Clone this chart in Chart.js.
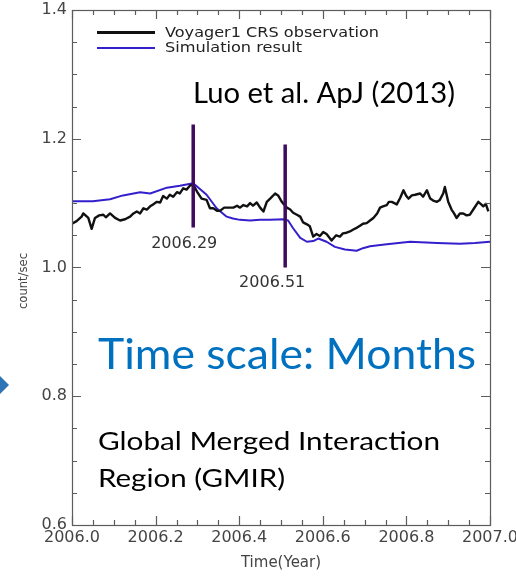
<!DOCTYPE html>
<html>
<head>
<meta charset="utf-8">
<script src="https://cdn.jsdelivr.net/npm/chart.js@4/dist/chart.umd.min.js"></script>
<style>
  html, body { margin: 0; padding: 0; background: #ffffff; }
  canvas { display: block; }
</style>
</head>
<body>
<canvas id="c" width="516" height="576"></canvas>
<script>
// Voyager 1 CRS count rate during 2006 and the matching model run
const obsTime = [
  2006.000, 2006.011, 2006.023, 2006.027, 2006.039, 2006.047, 2006.055, 2006.065, 2006.075, 2006.081,
  2006.091, 2006.103, 2006.115, 2006.127, 2006.139, 2006.147, 2006.155, 2006.163, 2006.171, 2006.179,
  2006.187, 2006.194, 2006.203, 2006.211, 2006.218, 2006.227, 2006.234, 2006.242, 2006.251, 2006.258,
  2006.266, 2006.274, 2006.282, 2006.290, 2006.299, 2006.310, 2006.322, 2006.330, 2006.338, 2006.347,
  2006.354, 2006.364, 2006.374, 2006.386, 2006.395, 2006.402, 2006.410, 2006.419, 2006.426, 2006.433,
  2006.442, 2006.450, 2006.458, 2006.466, 2006.474, 2006.486, 2006.493, 2006.502, 2006.507, 2006.514,
  2006.522, 2006.529, 2006.538, 2006.546, 2006.553, 2006.562, 2006.569, 2006.577, 2006.585, 2006.593,
  2006.601, 2006.609, 2006.621, 2006.632, 2006.641, 2006.648, 2006.657, 2006.665, 2006.673, 2006.682,
  2006.689, 2006.696, 2006.705, 2006.713, 2006.721, 2006.730, 2006.737, 2006.744, 2006.753, 2006.758,
  2006.765, 2006.777, 2006.785, 2006.793, 2006.799, 2006.805, 2006.813, 2006.821, 2006.833, 2006.840,
  2006.849, 2006.857, 2006.864, 2006.873, 2006.880, 2006.888, 2006.892, 2006.900, 2006.908, 2006.914,
  2006.920, 2006.928, 2006.936, 2006.944, 2006.952, 2006.962, 2006.972, 2006.979, 2006.984, 2006.990,
  2006.996
];
const obsCount = [
  1.068, 1.072, 1.079, 1.084, 1.077, 1.060, 1.077, 1.081, 1.082, 1.078,
  1.084, 1.077, 1.073, 1.075, 1.079, 1.084, 1.087, 1.084, 1.092, 1.090,
  1.095, 1.098, 1.102, 1.101, 1.111, 1.107, 1.113, 1.110, 1.117, 1.115,
  1.123, 1.121, 1.127, 1.129, 1.118, 1.107, 1.105, 1.092, 1.092, 1.088,
  1.088, 1.093, 1.093, 1.093, 1.096, 1.093, 1.097, 1.095, 1.100, 1.096,
  1.101, 1.093, 1.087, 1.102, 1.107, 1.115, 1.112, 1.102, 1.098, 1.093,
  1.090, 1.085, 1.082, 1.079, 1.070, 1.067, 1.064, 1.048, 1.052, 1.049,
  1.055, 1.052, 1.042, 1.050, 1.048, 1.053, 1.054, 1.056, 1.059, 1.062,
  1.065, 1.068, 1.069, 1.073, 1.077, 1.084, 1.093, 1.095, 1.097, 1.102,
  1.102, 1.098, 1.108, 1.120, 1.112, 1.107, 1.112, 1.113, 1.115, 1.110,
  1.120, 1.107, 1.104, 1.102, 1.105, 1.115, 1.125, 1.102, 1.090, 1.084,
  1.077, 1.084, 1.084, 1.081, 1.082, 1.092, 1.102, 1.098, 1.095, 1.099,
  1.087
];
const simTime = [
  2006.000, 2006.050, 2006.091, 2006.122, 2006.163, 2006.187, 2006.227, 2006.258, 2006.290, 2006.306,
  2006.322, 2006.346, 2006.370, 2006.385, 2006.402, 2006.426, 2006.450, 2006.474, 2006.506, 2006.517,
  2006.529, 2006.546, 2006.562, 2006.577, 2006.589, 2006.609, 2006.629, 2006.653, 2006.681, 2006.696,
  2006.713, 2006.753, 2006.809, 2006.873, 2006.928, 2006.964, 2007.000
];
const simCount = [
  1.103, 1.103, 1.106, 1.112, 1.117, 1.115, 1.124, 1.127, 1.131, 1.122,
  1.113, 1.092, 1.079, 1.076, 1.074, 1.073, 1.074, 1.074, 1.075, 1.073,
  1.061, 1.046, 1.040, 1.041, 1.045, 1.040, 1.032, 1.028, 1.026, 1.030,
  1.033, 1.036, 1.040, 1.038, 1.037, 1.038, 1.040
];
const seriesNames = ['Voyager1 CRS observation', 'Simulation result'];

const xTickValues = [2006.0, 2006.2, 2006.4, 2006.6, 2006.8, 2007.0];
const xTickLabels = ['2006.0', '2006.2', '2006.4', '2006.6', '2006.8', '2007.0'];
const yTickValues = [0.6, 0.8, 1.0, 1.2, 1.4];
const yTickLabels = ['0.6', '0.8', '1.0', '1.2', '1.4'];

// Event markers: time, label, and the count range each bar spans
const eventYears = [2006.29, 2006.51];
const eventLabels = ['2006.29', '2006.51'];
const eventTop = [1.222, 1.191];
const eventBottom = [1.062, 1.000];

const notes = ['Luo et al. ApJ (2013)', 'Time scale: Months', 'Global Merged Interaction', 'Region (GMIR)'];

const OBS_COLOR = '#111111';
const SIM_COLOR = '#3320cc';
const EVENT_COLOR = '#3f0b5c';
const AXIS_COLOR = '#5c5c5c';
const LABEL_COLOR = '#444444';

function toPoints(xs, ys) { return xs.map((x, i) => ({ x: x, y: ys[i] })); }

// Draw a string so that it spans a given width, starting at (left, baseline)
function fitText(ctx, text, left, baseline, font, width, color) {
  ctx.save();
  ctx.font = font;
  ctx.fillStyle = color;
  ctx.textAlign = 'left';
  ctx.textBaseline = 'alphabetic';
  const w = ctx.measureText(text).width;
  ctx.translate(left, baseline);
  ctx.scale(width / w, 1);
  ctx.fillText(text, 0, 0);
  ctx.restore();
}

// Closed frame with inward major/minor ticks on all four sides
const axisFrame = {
  id: 'axisFrame',
  afterDatasetsDraw(chart) {
    const { ctx, chartArea: a, scales } = chart;
    const xs = scales.x, ys = scales.y;
    ctx.save();
    ctx.strokeStyle = AXIS_COLOR;
    ctx.lineWidth = 1.2;
    ctx.beginPath();
    for (let k = 0; k <= 20; k++) {
      const px = Math.round(xs.getPixelForValue(xs.min + k * 0.05)) + 0.5;
      const len = (k % 4 === 0) ? 9 : 5;
      ctx.moveTo(px, a.bottom); ctx.lineTo(px, a.bottom - len);
      ctx.moveTo(px, a.top); ctx.lineTo(px, a.top + len);
    }
    for (let k = 0; k <= 16; k++) {
      const py = Math.round(ys.getPixelForValue(ys.min + k * 0.05)) + 0.5;
      const len = (k % 4 === 0) ? 9 : 5;
      ctx.moveTo(a.left, py); ctx.lineTo(a.left + len, py);
      ctx.moveTo(a.right, py); ctx.lineTo(a.right - len, py);
    }
    ctx.stroke();
    ctx.strokeRect(a.left + 0.5, a.top + 0.5, a.right - a.left, a.bottom - a.top);

    // event bars
    ctx.strokeStyle = EVENT_COLOR;
    ctx.lineWidth = 3.5;
    ctx.beginPath();
    eventYears.forEach((t, i) => {
      const px = xs.getPixelForValue(t);
      ctx.moveTo(px, ys.getPixelForValue(eventTop[i]));
      ctx.lineTo(px, ys.getPixelForValue(eventBottom[i]));
    });
    ctx.stroke();
    ctx.restore();
  },
  afterDraw(chart) {
    const { ctx, chartArea: a, scales } = chart;
    const xs = scales.x, ys = scales.y;
    ctx.save();

    // event labels
    ctx.font = '16px "DejaVu Sans"';
    ctx.fillStyle = '#333333';
    ctx.textAlign = 'center';
    ctx.textBaseline = 'middle';
    ctx.fillText(eventLabels[0], xs.getPixelForValue(eventYears[0]) - 9, ys.getPixelForValue(eventBottom[0]) + 16);
    ctx.fillText(eventLabels[1], xs.getPixelForValue(eventYears[1]) - 13, ys.getPixelForValue(eventBottom[1]) + 15);

    // legend
    ctx.lineCap = 'butt';
    ctx.strokeStyle = OBS_COLOR; ctx.lineWidth = 3;
    ctx.beginPath(); ctx.moveTo(97, 32.5); ctx.lineTo(155, 32.5); ctx.stroke();
    ctx.strokeStyle = SIM_COLOR; ctx.lineWidth = 2;
    ctx.beginPath(); ctx.moveTo(97, 48); ctx.lineTo(155, 48); ctx.stroke();
    fitText(ctx, seriesNames[0], 165, 37, '14px "DejaVu Sans"', 214, '#222222');
    fitText(ctx, seriesNames[1], 165, 52, '14px "DejaVu Sans"', 137, '#222222');

    // y-axis title
    ctx.save();
    ctx.translate(27, 281);
    ctx.rotate(-Math.PI / 2);
    ctx.font = '13px "DejaVu Sans"';
    const w = ctx.measureText('count/sec').width;
    ctx.scale(56 / w, 1);
    ctx.fillStyle = LABEL_COLOR;
    ctx.textAlign = 'center';
    ctx.textBaseline = 'alphabetic';
    ctx.fillText('count/sec', 0, 0);
    ctx.restore();

    // notes
    fitText(ctx, notes[0], 193, 103, '29px Lato', 262, '#000000');
    fitText(ctx, notes[1], 98, 369, '43px Lato', 378, '#0070c0');
    fitText(ctx, notes[2], 98, 450, '25.5px Lato', 342, '#000000');
    fitText(ctx, notes[3], 98, 486.5, '25.5px Lato', 187, '#000000');

    // slide arrow at the left margin
    ctx.fillStyle = '#2e75b6';
    ctx.beginPath();
    ctx.moveTo(-9, 385); ctx.lineTo(0, 376); ctx.lineTo(9, 385); ctx.lineTo(0, 394);
    ctx.closePath(); ctx.fill();
    ctx.restore();
  }
};

Chart.defaults.font.family = '"DejaVu Sans", sans-serif';

new Chart(document.getElementById('c'), {
  type: 'line',
  data: {
    datasets: [
      { label: seriesNames[0], data: toPoints(obsTime, obsCount), borderColor: OBS_COLOR, borderWidth: 2.4,
        pointRadius: 0, tension: 0, fill: false, borderJoinStyle: 'round' },
      { label: seriesNames[1], data: toPoints(simTime, simCount), borderColor: SIM_COLOR, borderWidth: 2,
        pointRadius: 0, tension: 0, fill: false, borderJoinStyle: 'round' }
    ]
  },
  options: {
    responsive: false,
    devicePixelRatio: 1,
    animation: false,
    events: [],
    layout: { padding: { left: 0, right: 26, top: 10, bottom: 0 } },
    plugins: { legend: { display: false }, tooltip: { enabled: false }, title: { display: false } },
    scales: {
      x: {
        type: 'linear', min: 2006.0, max: 2007.0,
        grid: { display: false, drawTicks: false },
        border: { display: false },
        afterBuildTicks(scale) { scale.ticks = xTickValues.map(v => ({ value: v })); },
        afterFit(scale) { scale.height = 51; scale.paddingLeft = 0; scale.paddingRight = 0; },
        ticks: {
          autoSkip: false, maxRotation: 0, padding: 3, color: LABEL_COLOR,
          font: { size: 16 },
          callback: (v, i) => xTickLabels[i]
        },
        title: { display: true, text: 'Time(Year)', color: LABEL_COLOR, font: { size: 15 }, padding: { top: 0, bottom: 4 } }
      },
      y: {
        type: 'linear', min: 0.6, max: 1.4,
        grid: { display: false, drawTicks: false },
        border: { display: false },
        afterBuildTicks(scale) { scale.ticks = yTickValues.map(v => ({ value: v })); },
        afterFit(scale) { scale.width = 72; scale.paddingTop = 0; scale.paddingBottom = 0; },
        ticks: {
          autoSkip: false, padding: 5, color: LABEL_COLOR,
          font: { size: 16 },
          callback: (v, i) => yTickLabels[i]
        }
      }
    }
  },
  plugins: [axisFrame]
});
</script>
</body>
</html>
